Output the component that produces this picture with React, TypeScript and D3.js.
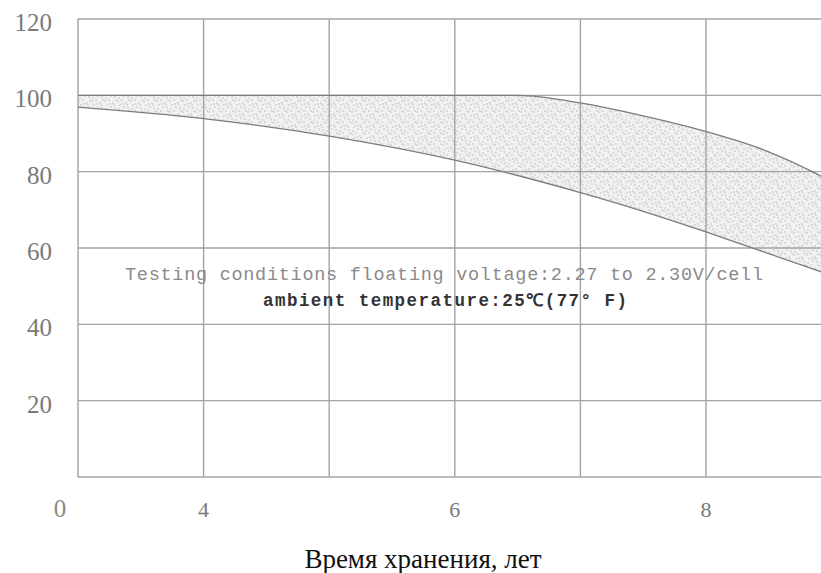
import * as d3 from 'd3';
import { useEffect, useRef } from 'react';

// years (x) and capacity % (y)
const upperYears = [3, 5, 6.5, 7, 7.5, 8, 8.5, 8.87, 8.95];
const upperCapacity = [100, 100, 100, 98, 94.6, 90.5, 85.2, 79.6, 78.2];
const lowerYears = [3, 4, 5, 6, 7, 7.5, 8, 8.5, 8.95];
const lowerCapacity = [96.9, 93.9, 89.3, 83, 74.5, 69.6, 64.2, 58.5, 53.4];

const xGrid = [3, 4, 5, 6, 7, 8];
const xTickValues = [4, 6, 8];
const xTickLabels = ['4', '6', '8'];
const yTickValues = [20, 40, 60, 80, 100, 120];
const originLabel = '0';

const noteLine1 = 'Testing conditions floating voltage:2.27 to 2.30V/cell';
const noteLine2 = 'ambient temperature:25\u2103(77\u00b0 F)';
const xAxisTitle = 'Время хранения, лет';

const W = 821;
const H = 573;

export default function App() {
  const svgRef = useRef<SVGSVGElement>(null);

  useEffect(() => {
    if (!svgRef.current) return;
    const svg = d3.select(svgRef.current);
    svg.selectAll('*').remove();

    const x = d3.scaleLinear().domain([3, 9]).range([78, 78 + 6 * 125.6]);
    const y = d3.scaleLinear().domain([0, 120]).range([477, 19]);

    // stipple texture for the band
    const defs = svg.append('defs');
    const pat = defs.append('pattern')
      .attr('id', 'stipple')
      .attr('patternUnits', 'userSpaceOnUse')
      .attr('width', 13)
      .attr('height', 11);
    pat.append('rect').attr('width', 13).attr('height', 11).attr('fill', '#f1f1f1');
    const dots: [number, number][] = [[1, 2], [5, 1], [9, 4], [3, 6], [7, 8], [11, 9], [12, 1], [2, 10], [6, 5], [10, 6]];
    pat.selectAll('circle')
      .data(dots)
      .join('circle')
      .attr('cx', d => d[0])
      .attr('cy', d => d[1])
      .attr('r', 0.65)
      .attr('fill', '#b0b0b0');

    const upper = upperYears.map((t, i) => [t, upperCapacity[i]] as [number, number]);
    const lower = lowerYears.map((t, i) => [t, lowerCapacity[i]] as [number, number]);

    const lineGen = d3.line<[number, number]>()
      .x(d => x(d[0]))
      .y(d => y(d[1]))
      .curve(d3.curveMonotoneX);
    const upPath = lineGen(upper) ?? '';
    const lowRev = lineGen([...lower].reverse()) ?? '';
    svg.append('path')
      .attr('d', upPath + 'L' + lowRev.slice(1) + 'Z')
      .attr('fill', 'url(#stipple)');

    // grid
    const grid = svg.append('g').attr('stroke', '#a3a3a3').attr('stroke-width', 1.4);
    grid.selectAll('line.h')
      .data([0, ...yTickValues])
      .join('line')
      .attr('class', 'h')
      .attr('x1', x(3))
      .attr('x2', W)
      .attr('y1', d => y(d))
      .attr('y2', d => y(d));
    grid.selectAll('line.v')
      .data(xGrid)
      .join('line')
      .attr('class', 'v')
      .attr('x1', d => x(d))
      .attr('x2', d => x(d))
      .attr('y1', y(120))
      .attr('y2', y(0));

    // curves
    svg.append('path')
      .attr('d', upPath)
      .attr('fill', 'none')
      .attr('stroke', '#7c7c7c')
      .attr('stroke-width', 1.3);
    svg.append('path')
      .attr('d', lineGen(lower) ?? '')
      .attr('fill', 'none')
      .attr('stroke', '#7c7c7c')
      .attr('stroke-width', 1.3);

    // y tick labels
    svg.selectAll('text.ytick')
      .data(yTickValues)
      .join('text')
      .attr('class', 'ytick')
      .attr('x', 52)
      .attr('y', d => y(d) + 12)
      .attr('text-anchor', 'end')
      .style('font-family', '"Liberation Serif", serif')
      .style('font-size', '25px')
      .style('fill', '#7a7a7a')
      .text(d => String(d));

    // x tick labels
    svg.selectAll('text.xtick')
      .data(xTickValues)
      .join('text')
      .attr('class', 'xtick')
      .attr('x', d => x(d))
      .attr('y', 517)
      .attr('text-anchor', 'middle')
      .style('font-family', '"Liberation Serif", serif')
      .style('font-size', '22px')
      .style('fill', '#7a7a7a')
      .text((_, i) => xTickLabels[i]);

    svg.append('text')
      .attr('x', 60)
      .attr('y', 517)
      .attr('text-anchor', 'middle')
      .style('font-family', '"Liberation Serif", serif')
      .style('font-size', '25px')
      .style('fill', '#8a8a8a')
      .text(originLabel);

    // test-condition notes
    svg.append('text')
      .attr('x', 125)
      .attr('y', 280)
      .attr('textLength', 638)
      .attr('lengthAdjust', 'spacing')
      .style('font-family', '"Liberation Mono", monospace')
      .style('font-size', '18.5px')
      .style('fill', '#8a8a8a')
      .text(noteLine1);
    svg.append('text')
      .attr('x', 263)
      .attr('y', 306)
      .attr('textLength', 364)
      .attr('lengthAdjust', 'spacing')
      .style('font-family', '"Liberation Mono", monospace')
      .style('font-size', '17.5px')
      .style('font-weight', 'bold')
      .style('fill', '#333')
      .text(noteLine2);

    // axis title
    svg.append('text')
      .attr('x', 423)
      .attr('y', 568)
      .attr('text-anchor', 'middle')
      .style('font-family', '"Liberation Serif", serif')
      .style('font-size', '27px')
      .style('fill', '#111')
      .text(xAxisTitle);
  }, []);

  return (
    <svg
      ref={svgRef}
      width={W}
      height={H}
      style={{ position: 'absolute', left: 0, top: 0, background: '#fff' }}
    />
  );
}
